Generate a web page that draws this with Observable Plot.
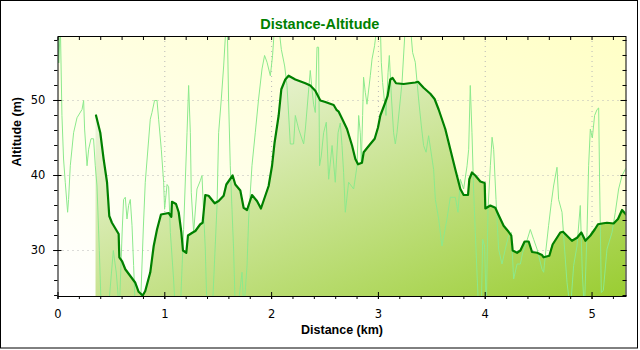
<!DOCTYPE html>
<html><head><meta charset="utf-8">
<script src="https://cdn.jsdelivr.net/npm/d3@7"></script>
<script src="https://cdn.jsdelivr.net/npm/@observablehq/plot@0.6"></script>
<style>html,body{margin:0;padding:0;background:#fff}#chart{width:640px;height:350px}</style>
</head><body><div id="chart"></div>
<script>
// Raw GPS altitude (thin light-green line)
const rawDist = [0.000,0.007,0.022,0.037,0.052,0.068,0.090,0.099,0.115,0.146,
0.178,0.225,0.240,0.249,0.272,0.287,0.309,0.333,0.349,0.365,
0.387,0.405,0.471,0.518,0.546,0.574,0.602,0.614,0.630,0.646,
0.661,0.677,0.693,0.708,0.724,0.771,0.799,0.817,0.864,0.880,
0.904,0.927,0.942,0.967,0.989,0.998,1.021,1.036,1.052,1.082,
1.098,1.145,1.176,1.208,1.223,1.239,1.248,1.270,1.301,1.332,
1.348,1.379,1.395,1.445,1.489,1.504,1.529,1.551,1.573,1.585,
1.597,1.613,1.629,1.644,1.660,1.698,1.723,1.740,1.770,1.785,
1.816,1.847,1.878,1.910,1.934,1.957,1.988,2.009,2.028,2.066,
2.091,2.122,2.144,2.175,2.206,2.222,2.253,2.300,2.316,2.362,
2.378,2.393,2.409,2.425,2.440,2.449,2.465,2.487,2.512,2.534,
2.566,2.596,2.622,2.643,2.659,2.674,2.690,2.721,2.768,2.800,
2.815,2.830,2.840,2.852,2.861,2.877,2.893,2.924,2.940,2.964,
2.987,3.018,3.027,3.039,3.058,3.071,3.090,3.102,3.121,3.142,
3.158,3.174,3.221,3.252,3.299,3.320,3.345,3.376,3.402,3.423,
3.446,3.470,3.517,3.533,3.564,3.595,3.642,3.673,3.720,3.745,
3.767,3.798,3.830,3.845,3.860,3.876,3.891,3.907,3.938,3.963,
3.976,3.994,4.010,4.026,4.048,4.064,4.079,4.101,4.125,4.157,
4.188,4.219,4.244,4.266,4.298,4.329,4.350,4.375,4.422,4.453,
4.485,4.532,4.547,4.569,4.593,4.619,4.640,4.672,4.687,4.719,
4.743,4.766,4.797,4.828,4.859,4.890,4.909,4.928,4.953,4.968,
4.984,5.003,5.024,5.047,5.062,5.071,5.087,5.106,5.140,5.187,
5.218,5.249,5.281,5.318];
const rawAlt = [60,55,60,48,42.2,39.1,35.1,36.8,41.3,45.7,
47.7,48.8,50,46.2,41.3,43.5,44.9,44.9,41.3,38.6,
30,22,22,30,27,22,33,36.8,37.1,34.2,
36,36.8,33.3,28,22,22,33,39.1,47.5,48.4,
50,50,47.5,43.5,39.1,35.5,38.8,38.5,32.4,26.2,
22,22,32.8,45.7,52,45.7,37.7,32.4,38.2,39.3,
40,30.2,22,22,36,45.7,50.2,54.6,60,60,
50.2,41.3,35.5,30.2,22,24,27.1,22,28,34.2,
41.3,45.7,50.2,54.2,56,55.1,53.3,56,60,60,
56.8,54.6,52,44.2,44.2,48,46.2,44.2,46.2,54,
51.5,49.5,48.4,57.1,57.1,41.3,42.6,45.7,47.1,39.5,
44,39.1,45.7,47,44,40.4,35.1,39.1,38.2,41.3,
48,45.7,41.7,48,53.1,51.1,49.5,53.3,55.5,57.3,
60,60,55.1,52.4,49.7,48,53.7,56,50.6,45.7,
44.2,45.7,52.4,60,60,56.4,55.1,50.2,46.6,44,
43.1,45.3,40.8,36.8,34.2,30.6,34.2,37.1,37.1,35.1,
39.5,38.2,41.3,43.5,52,45.7,38.2,32.4,22,22,
31.5,30.6,22,35.5,41.3,45.1,43.5,36.8,30.2,28.2,
30.2,32,32.4,26.2,28.2,28.2,29.7,30.6,32.8,31.5,
30.2,27.5,27.1,30.2,33.3,36.4,38.6,41.1,36.8,35.1,
30.2,25.7,22,28,30.6,36,27,22,32.4,41.3,
46.2,45,48,48.8,49,39.1,24.4,24.7,30.2,32.4,
35.1,38.2,40,41];

// Smoothed altitude (thick dark-green line with filled area)
const smoothDist = [0.356,0.396,0.427,0.459,0.480,0.505,0.568,0.574,0.599,0.630,
0.724,0.755,0.793,0.817,0.864,0.896,0.927,0.964,1.036,1.061,
1.067,1.105,1.130,1.155,1.170,1.201,1.217,1.261,1.286,1.332,
1.354,1.379,1.410,1.467,1.504,1.551,1.576,1.635,1.660,1.707,
1.738,1.770,1.816,1.863,1.900,1.972,2.004,2.028,2.066,2.091,
2.128,2.159,2.222,2.316,2.362,2.409,2.456,2.503,2.581,2.610,
2.628,2.659,2.706,2.753,2.784,2.809,2.846,2.862,2.924,2.965,
2.996,3.018,3.058,3.086,3.111,3.133,3.165,3.236,3.289,3.345,
3.371,3.423,3.486,3.526,3.564,3.626,3.673,3.720,3.767,3.798,
3.839,3.851,3.876,3.907,3.954,3.995,4.001,4.048,4.094,4.126,
4.172,4.219,4.244,4.257,4.298,4.329,4.369,4.407,4.438,4.485,
4.532,4.547,4.600,4.631,4.703,4.728,4.812,4.860,4.900,4.938,
4.985,5.025,5.056,5.094,5.140,5.202,5.243,5.281,5.318];
const smoothAlt = [48.0,45.7,42.2,39.1,34.6,33.7,32.2,29.1,28.6,27.5,
25.7,24.5,24.0,24.6,27.1,30.6,32.8,34.8,35.0,34.5,
36.5,36.2,35.1,32.4,30.0,29.7,32.0,32.4,32.6,33.5,
33.7,37.4,37.3,36.3,36.6,37.3,38.8,40.0,38.8,38.0,
35.7,35.4,37.4,36.6,35.6,38.6,41.3,44.4,48.0,51.5,
52.8,53.3,52.8,52.3,52.0,51.3,50.0,49.8,49.4,48.7,
48.5,47.6,46.2,44.0,42.2,41.5,41.7,43.1,44.2,44.9,
46.4,48.0,49.5,50.6,52.8,53.0,52.3,52.2,52.3,52.4,
52.5,51.7,50.9,50.2,48.8,46.2,43.5,40.8,38.2,37.4,
37.4,39.5,40.4,40.0,39.2,39.0,35.6,36.0,35.7,34.7,
33.3,32.5,32.0,30.0,29.7,30.0,31.2,31.2,29.8,29.7,
29.4,29.1,29.3,30.8,32.4,32.5,31.3,31.7,32.4,31.3,
32.0,32.8,33.5,33.6,33.7,33.6,34.2,35.4,34.8];

const xTicks = [0, 1, 2, 3, 4, 5];
const yTicks = [30, 40, 50];
const xMinorTicks = d3.range(0, 27).map(i => +(i * 0.2).toFixed(1));
const yMinorTicks = d3.range(24, 59, 2);
const titleText = "Distance-Altitude";
const xLabelText = "Distance (km)";
const yLabelText = "Altitude (m)";
const xDomain = [0, 5.318];
const yDomain = [23.87, 58.53];

const raw = rawDist.map((d, i) => ({d, a: rawAlt[i]}));
const smooth = smoothDist.map((d, i) => ({d, a: smoothAlt[i]}));
const none = () => "";

const svg = Plot.plot({
  width: 640, height: 350,
  marginLeft: 57.5, marginRight: 14.5, marginTop: 36, marginBottom: 54,
  x: {domain: xDomain},
  y: {domain: yDomain},
  style: {fontFamily: "'DejaVu Sans', sans-serif", fontSize: "11.5px", background: "#fff", color: "#000", overflow: "visible"},
  marks: [
    Plot.frame({fill: "url(#bgGrad)", stroke: null}),
    Plot.gridX(xTicks.slice(1), {stroke: "#b8b8b8", strokeOpacity: 1, strokeDasharray: "1,4"}),
    Plot.gridY(yTicks, {stroke: "#b8b8b8", strokeOpacity: 1, strokeDasharray: "1,4"}),
    Plot.areaY(smooth, {x: "d", y1: () => yDomain[0], y2: "a", fill: "url(#areaGrad)", clip: true}),
    Plot.line(raw, {x: "d", y: "a", stroke: "#8ce98c", strokeWidth: 1, clip: true}),
    Plot.line(smooth, {x: "d", y: "a", stroke: "#008000", strokeWidth: 2.2, clip: true}),
    Plot.frame({stroke: "#000"}),
    Plot.axisX(xMinorTicks, {anchor: "bottom", tickSize: 3, tickFormat: none, label: null}),
    Plot.axisX(xTicks, {anchor: "bottom", tickSize: 7, insetBottom: 4, tickFormat: none, label: null}),
    Plot.axisX(xTicks, {anchor: "bottom", tickSize: 0, tickPadding: 13.8, label: null}),
    Plot.axisX(xMinorTicks, {anchor: "top", tickSize: 3, insetTop: 3, tickFormat: none, label: null}),
    Plot.axisY(yMinorTicks, {anchor: "left", tickSize: 3.4, tickFormat: none, label: null}),
    Plot.axisY(yTicks, {anchor: "left", tickSize: 8.4, insetLeft: 4, tickFormat: none, label: null}),
    Plot.axisY(yTicks, {anchor: "left", tickSize: 0, tickPadding: 12.7, label: null}),
    Plot.axisY(yMinorTicks, {anchor: "right", tickSize: 4, insetRight: 4, tickFormat: none, label: null}),
    Plot.axisY(yTicks, {anchor: "right", tickSize: 6, insetRight: 6, tickFormat: none, label: null}),
    Plot.text([titleText], {frameAnchor: "top", dx: -22.2, dy: -17.9, fill: "#008000", fontWeight: "bold", fontSize: 14.5, fontFamily: "'Liberation Sans', Arial, sans-serif"}),
    Plot.text([xLabelText], {frameAnchor: "bottom", dy: 37.7, fontWeight: "bold", fontSize: 12.5, fontFamily: "'Liberation Sans', Arial, sans-serif"}),
    Plot.text([yLabelText], {frameAnchor: "left", dx: -40.7, rotate: -90, fontWeight: "bold", fontSize: 12.5, fontFamily: "'Liberation Sans', Arial, sans-serif"})
  ]
});

const defs = d3.select(svg).insert("defs", ":first-child");
const bg = defs.append("linearGradient").attr("id", "bgGrad")
  .attr("x1", 0).attr("y1", 1).attr("x2", 1).attr("y2", 0);
bg.append("stop").attr("offset", "0%").attr("stop-color", "#ffffff");
bg.append("stop").attr("offset", "100%").attr("stop-color", "#ffffc6");
const ag = defs.append("linearGradient").attr("id", "areaGrad")
  .attr("x1", 0).attr("y1", 0).attr("x2", 1).attr("y2", 1);
ag.append("stop").attr("offset", "0%").attr("stop-color", "#f6f9ee");
ag.append("stop").attr("offset", "100%").attr("stop-color", "#9acd32");

// outer border of the picture
d3.select(svg).append("rect").attr("x", 0.5).attr("y", 0.5).attr("width", 637).attr("height", 347.5)
  .attr("fill", "none").attr("stroke", "#000");

document.getElementById("chart").appendChild(svg);
</script>
</body></html>
